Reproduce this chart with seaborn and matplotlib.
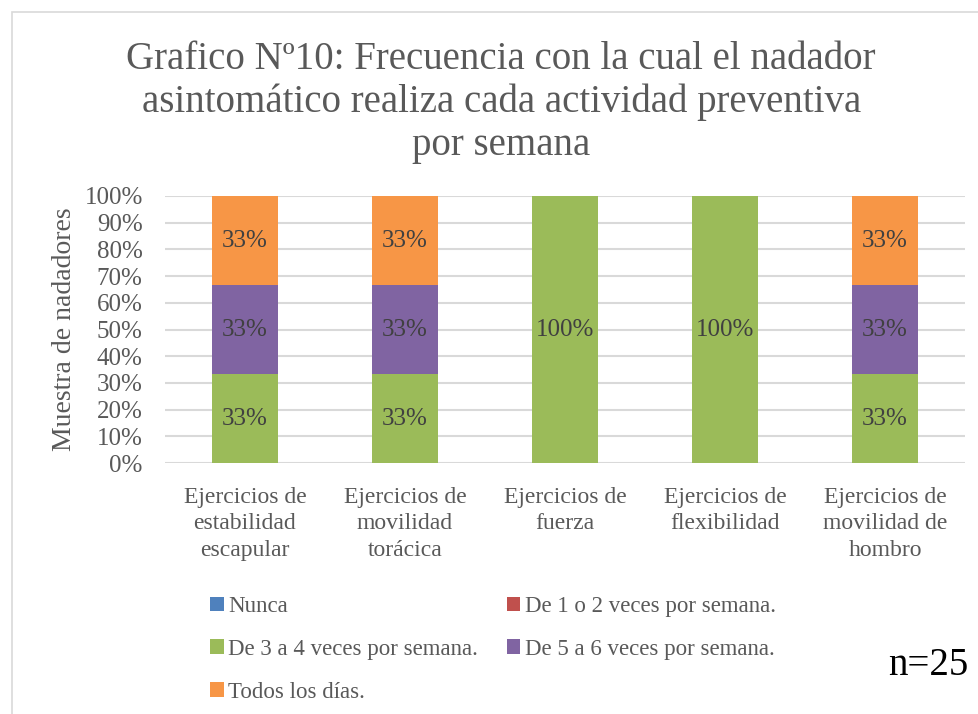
import matplotlib.pyplot as plt
import seaborn as sns
import numpy as np
from matplotlib.patches import Patch, Rectangle

# data
categorias = ['Ejercicios de\nestabilidad\nescapular', 'Ejercicios de\nmovilidad\ntorácica',
              'Ejercicios de\nfuerza', 'Ejercicios de\nflexibilidad', 'Ejercicios de\nmovilidad de\nhombro']
series = ['Nunca', 'De 1 o 2 veces por semana.', 'De 3 a 4 veces por semana.',
          'De 5 a 6 veces por semana.', 'Todos los días.']
nunca = [0, 0, 0, 0, 0]
de1a2 = [0, 0, 0, 0, 0]
de3a4 = [33.33, 33.33, 100, 100, 33.33]
de5a6 = [33.33, 33.33, 0, 0, 33.33]
todos = [33.33, 33.33, 0, 0, 33.33]
colores = ['#4F81BD', '#C0504D', '#9BBB59', '#8064A2', '#F79646']
yticks = [0, 10, 20, 30, 40, 50, 60, 70, 80, 90, 100]

sns.set_style('white')
plt.rcParams['font.family'] = ['Liberation Serif', 'DejaVu Serif']
txt = '#595959'

fig = plt.figure(figsize=(9.79, 7.14), dpi=100)
ax = fig.add_axes([0.1685, 0.3515, 0.8172, 0.374])

# outer chart border
fig.patches.append(Rectangle((12 / 979, -0.01), 1.0, 1 - 12 / 714 + 0.01, transform=fig.transFigure,
                             fill=False, edgecolor='#d9d9d9', lw=1.2))

for v in yticks:
    ax.axhline(v, color='#d9d9d9', lw=1.5, zorder=0)

bottom = np.zeros(len(categorias))
for nombre, vals, col in zip(series, [nunca, de1a2, de3a4, de5a6, todos], colores):
    vals = np.array(vals)
    sns.barplot(x=categorias, y=vals, bottom=bottom, color=col, width=0.41, ax=ax,
                saturation=1, linewidth=0, zorder=2)
    for i, v in enumerate(vals):
        if v > 0:
            ax.text(i, bottom[i] + v / 2, f'{v:.0f}%', ha='center', va='center',
                    fontsize=18, color='#404040', zorder=3)
    bottom += vals

ax.set_ylim(0, 100)
ax.set_yticks(yticks)
ax.set_yticklabels([f'{v}%' for v in yticks])
ax.tick_params(axis='y', labelsize=18, labelcolor=txt, pad=16, length=0)
ax.tick_params(axis='x', labelsize=17, labelcolor=txt, pad=17, length=0)
for lab in ax.get_xticklabels():
    lab.set_linespacing(1.35)
for s in ax.spines.values():
    s.set_visible(False)
ax.set_ylabel('Muestra de nadadores', fontsize=20, color=txt, labelpad=5)

fig.suptitle('Grafico Nº10: Frecuencia con la cual el nadador\nasintomático realiza cada actividad preventiva\npor semana',
             x=0.512, y=0.9426, fontsize=28, color=txt, linespacing=1.2, va='top')

handles = [Patch(facecolor=c, edgecolor='none', label=s) for s, c in zip(series, colores)]
orden = [0, 2, 4, 1, 3]
fig.legend([handles[i] for i in orden], [series[i] for i in orden], ncol=2,
           loc='upper left', bbox_to_anchor=(0.205, 0.178),
           frameon=False, fontsize=16.5, labelcolor=txt, handlelength=0.6, handleheight=0.6,
           handletextpad=0.2, columnspacing=1.25, labelspacing=0.95, borderaxespad=0)

fig.text(0.948, 0.068, 'n=25', fontsize=28, ha='center', va='center', color='black')

fig.savefig('out.png', dpi=100)
